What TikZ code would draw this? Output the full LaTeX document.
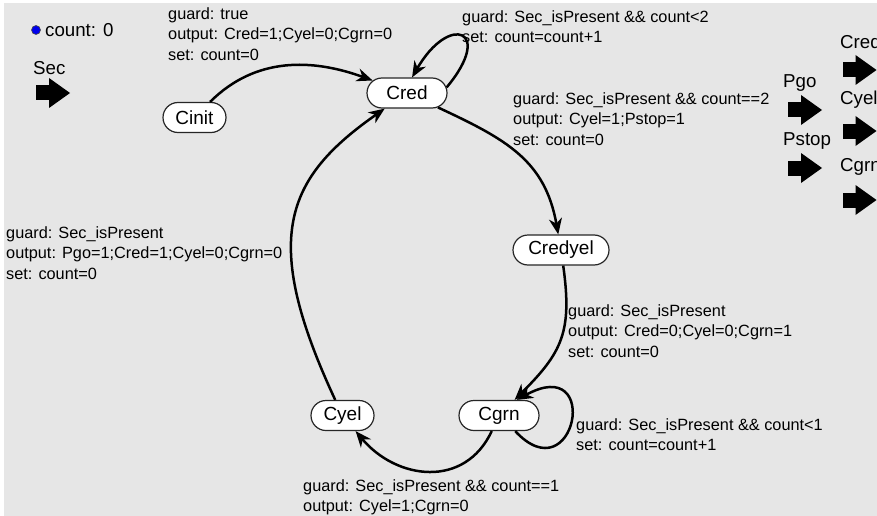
\documentclass[tikz,border=0pt]{standalone}
\usepackage{fontspec}
\setmainfont{Liberation Sans}
\usetikzlibrary{arrows.meta,shapes.misc}
\definecolor{canvas}{RGB}{230,230,230}
\definecolor{varblue}{RGB}{0,0,235}
\newcommand{\edgefont}{\fontsize{16.3}{20.7}\selectfont}
\newcommand{\portfont}{\fontsize{18.7}{22}\selectfont}
\tikzset{
  fsmstate/.style={rounded rectangle, draw=black!85, line width=1.2pt, fill=white,
    minimum height=30pt, inner sep=0pt, font=\fontsize{19}{22}\selectfont},
  trans/.style={line width=2.5pt, -{Stealth[length=16pt,width=13pt,inset=5pt]}},
  guardtext/.style={anchor=north west, inner sep=0pt, align=left, font=\edgefont},
  portlabel/.style={anchor=west, inner sep=0pt, font=\portfont},
  port/.pic={
    \fill (-17,-7.5) rectangle (-4,7.5);
    \fill (-4,15) -- (17,0) -- (-4,-15) -- cycle;
  }
}

\begin{document}
\begin{tikzpicture}[x=1pt,y=1pt]
  \useasboundingbox (0,0) rectangle (877,-516);
  \fill[canvas] (4,-3) rectangle (877,-516);
  % variable and ports
  \fill[varblue, draw=black!70, line width=0.6pt] (36,-30) circle (4.5);
  \node[portlabel] (countvar) at (45,-30) {count: 0};
  \node[portlabel] (secin) at (33,-68) {Sec};
  \pic at (53,-93) {port};
  \node[portlabel] (pgo) at (783,-83) {Pgo};
  \pic at (805,-110) {port};
  \node[portlabel] (pstop) at (783,-141) {Pstop};
  \pic at (805,-168) {port};
  \node[portlabel] (credout) at (840,-42) {Cred};
  \pic at (859.5,-70) {port};
  \node[portlabel] (cyelout) at (840,-100) {Cyel};
  \pic at (859.5,-131) {port};
  \node[portlabel] (cgrnout) at (840,-167) {Cgrn};
  \pic at (859.5,-200) {port};
  % states
  \node[fsmstate, minimum width=63pt] (Cinit) at (194.5,-117.5) {Cinit};
  \node[fsmstate, minimum width=80pt] (Cred) at (407,-93) {Cred};
  \node[fsmstate, minimum width=96pt] (Credyel) at (561,-250) {Credyel};
  \node[fsmstate, minimum width=80pt] (Cgrn) at (499,-415.5) {Cgrn};
  \node[fsmstate, minimum width=63pt] (Cyel) at (342.5,-415.5) {Cyel};
  % transitions
  \draw[trans] (Cinit) to[out=45,in=160] (Cred);
  \draw[trans] (Cred.8) .. controls +(50:75) and +(60:75) .. (Cred.72);
  \draw[trans] (Cred) to[out=-25,in=100,looseness=1.1] (Credyel);
  \draw[trans] (Credyel) to[out=-82,in=45,looseness=1.2] (Cgrn);
  \draw[trans] (Cgrn.-44) .. controls +(-47:88) and +(29:98) .. (Cgrn.41);
  \draw[trans] (Cgrn) to[out=-115,in=-50,looseness=1.2] (Cyel);
  \draw[trans] (Cyel) to[out=115,in=-145,out looseness=1.55,in looseness=1.05] (Cred);
  % guards and actions
  \node[guardtext] (lblinit) at (168,-7) {guard: true\\output: Cred=1;Cyel=0;Cgrn=0\\set: count=0};
  \node[guardtext] (lblredloop) at (462,-10) {guard: Sec\_isPresent \&\& count<2\\set: count=count+1};
  \node[guardtext] (lblredyel) at (513,-92) {guard: Sec\_isPresent \&\& count==2\\output: Cyel=1;Pstop=1\\set: count=0};
  \node[guardtext] (lblyelgrn) at (568,-304) {guard: Sec\_isPresent\\output: Cred=0;Cyel=0;Cgrn=1\\set: count=0};
  \node[guardtext] (lblgrnloop) at (576,-418) {guard: Sec\_isPresent \&\& count<1\\set: count=count+1};
  \node[guardtext] (lblgrnyel) at (303,-479) {guard: Sec\_isPresent \&\& count==1\\output: Cyel=1;Cgrn=0};
  \node[guardtext] (lblyelred) at (6,-226) {guard: Sec\_isPresent\\output: Pgo=1;Cred=1;Cyel=0;Cgrn=0\\set: count=0};
\end{tikzpicture}
\end{document}
